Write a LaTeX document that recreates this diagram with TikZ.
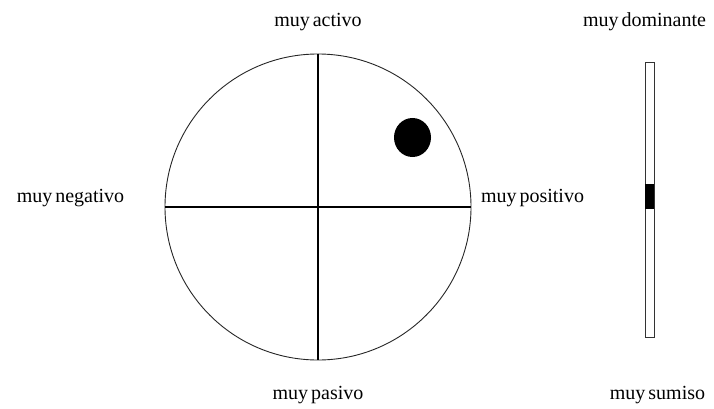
\documentclass[tikz,border=0pt]{standalone}
\usepackage{fontspec}
\setmainfont{Liberation Serif}[WordSpace=0.6]
\usetikzlibrary{positioning, shapes.geometric}
\tikzset{
	wheel/.style={circle, draw=black!85, line width=0.9pt, minimum size=306pt, inner sep=0pt},
	axisline/.style={line width=1.1pt, draw=black},
	blob/.style={ellipse, fill=black, minimum width=37pt, minimum height=39pt, inner sep=0pt},
	scalebar/.style={rectangle, draw=black!80, line width=0.8pt, fill=white, minimum width=9pt, minimum height=275pt, inner sep=0pt},
	marker/.style={rectangle, fill=black, minimum width=9pt, minimum height=25pt, inner sep=0pt},
	pole/.style={anchor=base, inner sep=0pt, font=\fontsize{20}{22}\selectfont},
}

\begin{document}
\begin{tikzpicture}[x=1pt, y=-1pt]
		\useasboundingbox (0,0) rectangle (714,409);
		\node[wheel] (wheel) at (318,207) {};
		\draw[axisline] (wheel.north) -- (wheel.south);
		\draw[axisline] (wheel.west) -- (wheel.east);
		\node[blob] (mood) at (412.5,137.5) {};
		\node[scalebar] (bar) at (649.5,199.5) {};
		\node[marker] (level) at (649.5,196.5) {};
		\node[pole] (activo) at (318,27) {muy activo};
		\node[pole] (pasivo) at (318,399) {muy pasivo};
		\node[pole] (negativo) at (70.5,202) {muy negativo};
		\node[pole] (positivo) at (532.5,202) {muy positivo};
		\node[pole] (dominante) at (644.5,27) {muy dominante};
		\node[pole] (sumiso) at (657.5,399) {muy sumiso};
	\end{tikzpicture}
\end{document}
